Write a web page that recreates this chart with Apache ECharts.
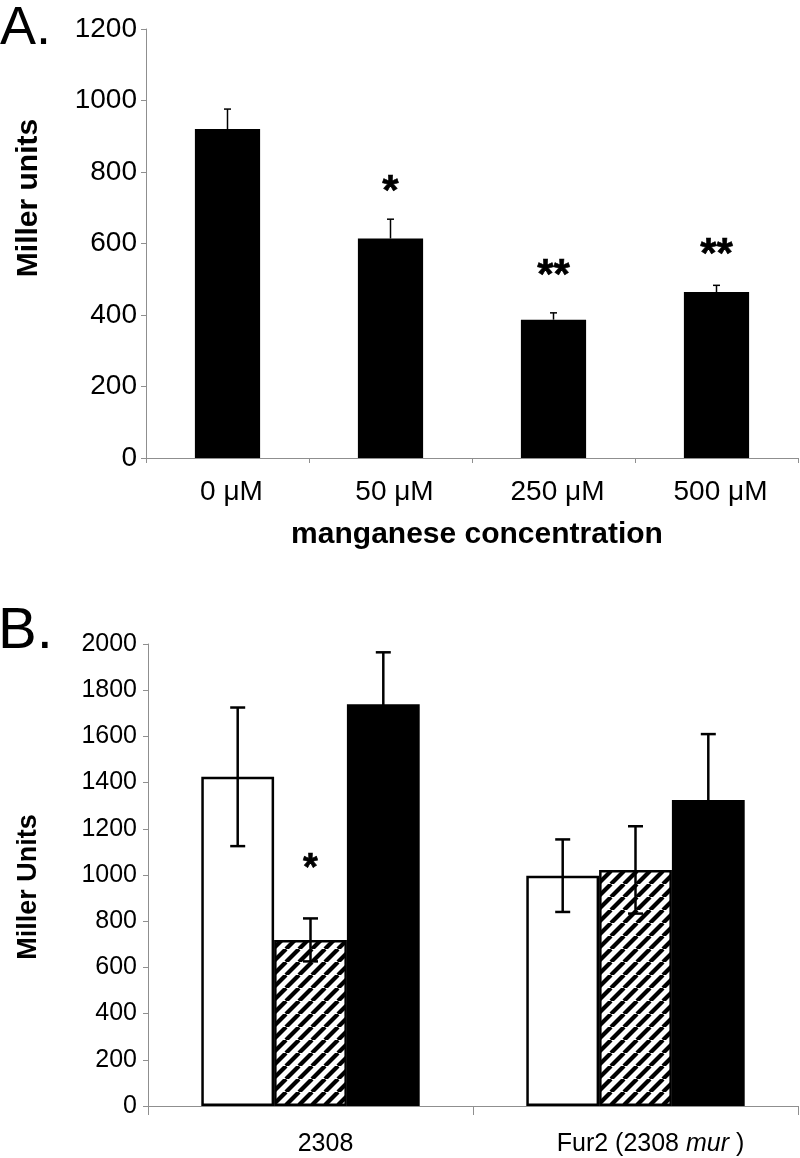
<!DOCTYPE html>
<html><head><meta charset="utf-8">
<script src="https://cdn.jsdelivr.net/npm/echarts/dist/echarts.min.js"></script>
<style>html,body{margin:0;padding:0;background:#fff}#c{width:800px;height:1158px}</style>
</head><body><div id="c"></div>
<script>
// ---------- Panel A data ----------
const catsA = ['0 μM', '50 μM', '250 μM', '500 μM'];
const valsA = [920, 614, 387, 464];
const errA = [56, 54, 19, 19];
const sigA = ['', '*', '**', '**'];
const sigPosA = [null, 769, 534, 593];
const yMinA = 0, yMaxA = 1200, yStepA = 200;

// ---------- Panel B data ----------
const catsB = ['2308', 'Fur2 (2308 mur )'];
const valsBWhite = [1425, 997];
const errBWhite = [300, 157];
const valsBHatched = [719, 1022];
const errBHatched = [93, 189];
const valsBBlack = [1739, 1325];
const errBBlack = [225, 285];
const sigB = ['*', ''];
const sigPosB = [1058, null];
const yMinB = 0, yMaxB = 2000, yStepB = 200;

const FONT = '"Liberation Sans", Arial, Helvetica, sans-serif';
const AXIS_GRAY = '#8f8f8f';

// hatch pattern
function makeHatch() {
  const S = 13;
  const cv = document.createElement('canvas');
  cv.width = S; cv.height = S;
  const ctx = cv.getContext('2d');
  ctx.fillStyle = '#fff'; ctx.fillRect(0, 0, S, S);
  ctx.strokeStyle = '#000'; ctx.lineWidth = 4.2;
  for (let k = -1; k <= 1; k++) {
    ctx.beginPath();
    ctx.moveTo(k * S, S); ctx.lineTo(k * S + S, 0);
    ctx.stroke();
  }
  return cv;
}

const BAR_FRAC_B = 0.224; // fraction of band used by each bar in panel B

function errSeries(xi, yi, vals, errs, offsetIdx, barFrac, both, capHalf, lw) {
  return {
    type: 'custom', xAxisIndex: xi, yAxisIndex: yi, z: 10,
    data: vals.map((v, i) => [i, v, errs[i]]),
    renderItem: function (params, api) {
      const cat = api.value(0), v = api.value(1), e = api.value(2);
      const band = api.size([1, 0])[0];
      const p0 = api.coord([cat, v]);
      const x = p0[0] + offsetIdx * barFrac * band;
      const yt = api.coord([cat, v + e])[1];
      const yb = both ? api.coord([cat, v - e])[1] : p0[1];
      const st = { stroke: '#000', lineWidth: lw };
      const ch = [
        { type: 'line', shape: { x1: x, y1: yt, x2: x, y2: yb }, style: st },
        { type: 'line', shape: { x1: x - capHalf, y1: yt, x2: x + capHalf, y2: yt }, style: st }
      ];
      if (both) ch.push({ type: 'line', shape: { x1: x - capHalf, y1: yb, x2: x + capHalf, y2: yb }, style: st });
      return { type: 'group', children: ch };
    }
  };
}

function sigSeries(xi, yi, sigs, pos, fs) {
  const data = [];
  sigs.forEach((s, i) => { if (s) data.push({ value: [i, pos[i]], name: s }); });
  return {
    type: 'scatter', xAxisIndex: xi, yAxisIndex: yi, symbolSize: 0, z: 11,
    itemStyle: { color: '#000', opacity: 1 },
    data: data,
    label: {
      show: true, position: 'inside', formatter: p => p.name, opacity: 1,
      fontSize: fs, fontWeight: 'bold', color: '#000', fontFamily: FONT,
      textBorderWidth: 0.6, textBorderColor: '#000',
      offset: [0, Math.round(fs * 0.22)]
    }
  };
}

const plain = v => String(v);

const chart = echarts.init(document.getElementById('c'), null, { renderer: 'canvas' });
const hatch = makeHatch();

const option = {
  animation: false,
  backgroundColor: '#fff',
  textStyle: { fontFamily: FONT },
  grid: [
    { left: 146, top: 29, width: 652, height: 429, containLabel: false, outerBoundsMode: 'none' },
    { left: 148, top: 644, width: 650, height: 462, containLabel: false, outerBoundsMode: 'none' }
  ],
  graphic: [
    { type: 'text', left: 0, top: 2, style: { text: 'A.', font: '54px ' + FONT, fill: '#000' } },
    { type: 'text', left: -2, top: 603, style: { text: 'B.', font: '58px ' + FONT, fill: '#000' } }
  ],
  xAxis: [
    {
      type: 'category', gridIndex: 0, data: catsA, boundaryGap: true,
      name: 'manganese concentration', nameLocation: 'middle', nameGap: 62,
      nameTextStyle: { fontSize: 30, fontWeight: 'bold', color: '#000', fontFamily: FONT, padding: [0, 0, 0, 10] },
      axisLine: { show: true, lineStyle: { color: AXIS_GRAY, width: 1 } },
      axisTick: { show: true, length: 5, lineStyle: { color: AXIS_GRAY } },
      axisLabel: { fontSize: 28, color: '#000', margin: 20, fontFamily: FONT, padding: [0, 0, 0, 8], interval: 0 },
      splitLine: { show: false }
    },
    {
      type: 'category', gridIndex: 1, data: catsB, boundaryGap: true,
      axisLine: { show: true, lineStyle: { color: AXIS_GRAY, width: 1 } },
      axisTick: { show: true, length: 9, lineStyle: { color: AXIS_GRAY } },
      axisLabel: {
        fontSize: 25, color: '#000', margin: 26, fontFamily: FONT, interval: 0, padding: [0, 0, 0, 30],
        formatter: v => v.replace('mur', '{i|mur}'),
        rich: { i: { fontSize: 25, fontStyle: 'italic', color: '#000', fontFamily: FONT } }
      },
      splitLine: { show: false }
    }
  ],
  yAxis: [
    {
      type: 'value', gridIndex: 0, min: yMinA, max: yMaxA, interval: yStepA,
      name: 'Miller units', nameLocation: 'middle', nameGap: 102, nameRotate: 90,
      nameTextStyle: { fontSize: 30, fontWeight: 'bold', color: '#000', fontFamily: FONT, padding: [0, 0, 0, 91] },
      axisLine: { show: true, lineStyle: { color: AXIS_GRAY, width: 1 } },
      axisTick: { show: true, length: 5, lineStyle: { color: AXIS_GRAY } },
      axisLabel: { fontSize: 28, color: '#000', margin: 9, fontFamily: FONT, formatter: plain },
      splitLine: { show: false }
    },
    {
      type: 'value', gridIndex: 1, min: yMinB, max: yMaxB, interval: yStepB,
      name: 'Miller Units', nameLocation: 'middle', nameGap: 106, nameRotate: 90,
      nameTextStyle: { fontSize: 27, fontWeight: 'bold', color: '#000', fontFamily: FONT, padding: [0, 24, 0, 0] },
      axisLine: { show: true, lineStyle: { color: AXIS_GRAY, width: 1 } },
      axisTick: { show: true, length: 5, lineStyle: { color: AXIS_GRAY } },
      axisLabel: { fontSize: 25, color: '#000', margin: 11, fontFamily: FONT, formatter: plain },
      splitLine: { show: false }
    }
  ],
  series: [
    {
      type: 'bar', xAxisIndex: 0, yAxisIndex: 0, data: valsA, barWidth: '40%',
      itemStyle: { color: '#000' }
    },
    errSeries(0, 0, valsA, errA, 0, 0, false, 3.5, 1.5),
    sigSeries(0, 0, sigA, sigPosA, 42),

    {
      name: 'white', type: 'bar', xAxisIndex: 1, yAxisIndex: 1, data: valsBWhite,
      barWidth: (BAR_FRAC_B * 100) + '%', barGap: '0%',
      itemStyle: { color: '#fff', borderColor: '#000', borderWidth: 2.5 }
    },
    {
      name: 'hatched', type: 'bar', xAxisIndex: 1, yAxisIndex: 1, data: valsBHatched,
      barWidth: (BAR_FRAC_B * 100) + '%', barGap: '0%',
      itemStyle: { color: { image: hatch, repeat: 'repeat' }, borderColor: '#000', borderWidth: 2.5 }
    },
    {
      name: 'black', type: 'bar', xAxisIndex: 1, yAxisIndex: 1, data: valsBBlack,
      barWidth: (BAR_FRAC_B * 100) + '%', barGap: '0%',
      itemStyle: { color: '#000', borderColor: '#000', borderWidth: 2.5 }
    },
    errSeries(1, 1, valsBWhite, errBWhite, -1, BAR_FRAC_B, true, 7.5, 2.5),
    errSeries(1, 1, valsBHatched, errBHatched, 0, BAR_FRAC_B, true, 7.5, 2.5),
    errSeries(1, 1, valsBBlack, errBBlack, 1, BAR_FRAC_B, true, 7.5, 2.5),
    sigSeries(1, 1, sigB, sigPosB, 38)
  ]
};
chart.setOption(option);
</script>
</body></html>
